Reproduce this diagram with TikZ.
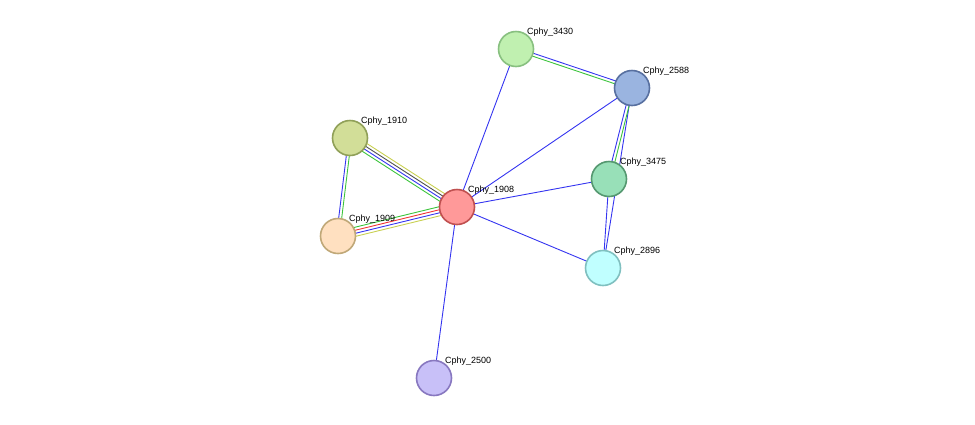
\documentclass[tikz,border=0pt]{standalone}
\usepackage{fontspec}
\setmainfont{Liberation Sans}
\usetikzlibrary{calc,backgrounds}
\tikzset{
  prot/.style   = {circle, draw, line width=1.6pt, minimum size=35pt, inner sep=0pt,
                   label={[anchor=south west, inner sep=0pt, xshift=-2pt, yshift=-1pt,
                   font=\fontsize{9}{10}\selectfont]north east:#1}},
  link/.style   = {line width=0.9pt}
}
\definecolor{lblue}{HTML}{3434F0}
\definecolor{lgreen}{HTML}{3CC43C}
\definecolor{lyellow}{HTML}{C8D050}
\definecolor{lred}{HTML}{F03434}
\definecolor{lgray}{HTML}{505050}
% parallel line between two nodes: offset, colour
\newcommand{\band}[4]{\draw[link,#4] ($(#1)!#3!90:(#2)$) -- ($(#2)!#3!-90:(#1)$);}

\begin{document}
\begin{tikzpicture}[x=1pt,y=-1pt]
  \useasboundingbox (0,0) rectangle (975,424);

  \node[prot=Cphy\_1908, fill={rgb,255:red,255;green,153;blue,153}, draw={rgb,255:red,192;green,80;blue,80}] (p1908) at (457,207) {};
  \node[prot=Cphy\_3430, fill={rgb,255:red,192;green,240;blue,176}, draw={rgb,255:red,136;green,192;blue,128}] (p3430) at (516,49) {};
  \node[prot=Cphy\_2588, fill={rgb,255:red,154;green,180;blue,224}, draw={rgb,255:red,88;green,112;blue,160}] (p2588) at (632,88) {};
  \node[prot=Cphy\_1910, fill={rgb,255:red,210;green,222;blue,152}, draw={rgb,255:red,144;green,160;blue,88}] (p1910) at (350,138) {};
  \node[prot=Cphy\_3475, fill={rgb,255:red,152;green,224;blue,184}, draw={rgb,255:red,85;green,152;blue,112}] (p3475) at (609,179) {};
  \node[prot=Cphy\_1909, fill={rgb,255:red,255;green,224;blue,192}, draw={rgb,255:red,192;green,168;blue,120}] (p1909) at (338,236) {};
  \node[prot=Cphy\_2896, fill={rgb,255:red,192;green,255;blue,255}, draw={rgb,255:red,128;green,192;blue,192}] (p2896) at (603,268) {};
  \node[prot=Cphy\_2500, fill={rgb,255:red,200;green,192;blue,248}, draw={rgb,255:red,136;green,120;blue,192}] (p2500) at (434,378) {};

  \begin{scope}[on background layer]
    \foreach \t in {p3430,p2588,p3475,p2896,p2500}
      \draw[link,lblue] (p1908.center) -- (\t.center);
    \draw[link,lblue] (p2588.center) -- (p2896.center);
    \draw[link,lblue] (p3475.center) -- (p2896.center);
    % multi-evidence links
    \band{p1908.center}{p1910.center}{-4.5pt}{lyellow}
    \band{p1908.center}{p1910.center}{-1.5pt}{lgray}
    \band{p1908.center}{p1910.center}{1.5pt}{lblue}
    \band{p1908.center}{p1910.center}{4.5pt}{lgreen}
    \band{p1908.center}{p1909.center}{4.5pt}{lyellow}
    \band{p1908.center}{p1909.center}{1.5pt}{lblue}
    \band{p1908.center}{p1909.center}{-1.5pt}{lred}
    \band{p1908.center}{p1909.center}{-4.5pt}{lgreen}
    \band{p1910.center}{p1909.center}{1.5pt}{lgreen}
    \band{p1910.center}{p1909.center}{-1.5pt}{lblue}
    \band{p3430.center}{p2588.center}{1.5pt}{lblue}
    \band{p3430.center}{p2588.center}{-1.5pt}{lgreen}
    \band{p2588.center}{p3475.center}{1.5pt}{lgreen}
    \band{p2588.center}{p3475.center}{-1.5pt}{lblue}
  \end{scope}
\end{tikzpicture}
\end{document}
